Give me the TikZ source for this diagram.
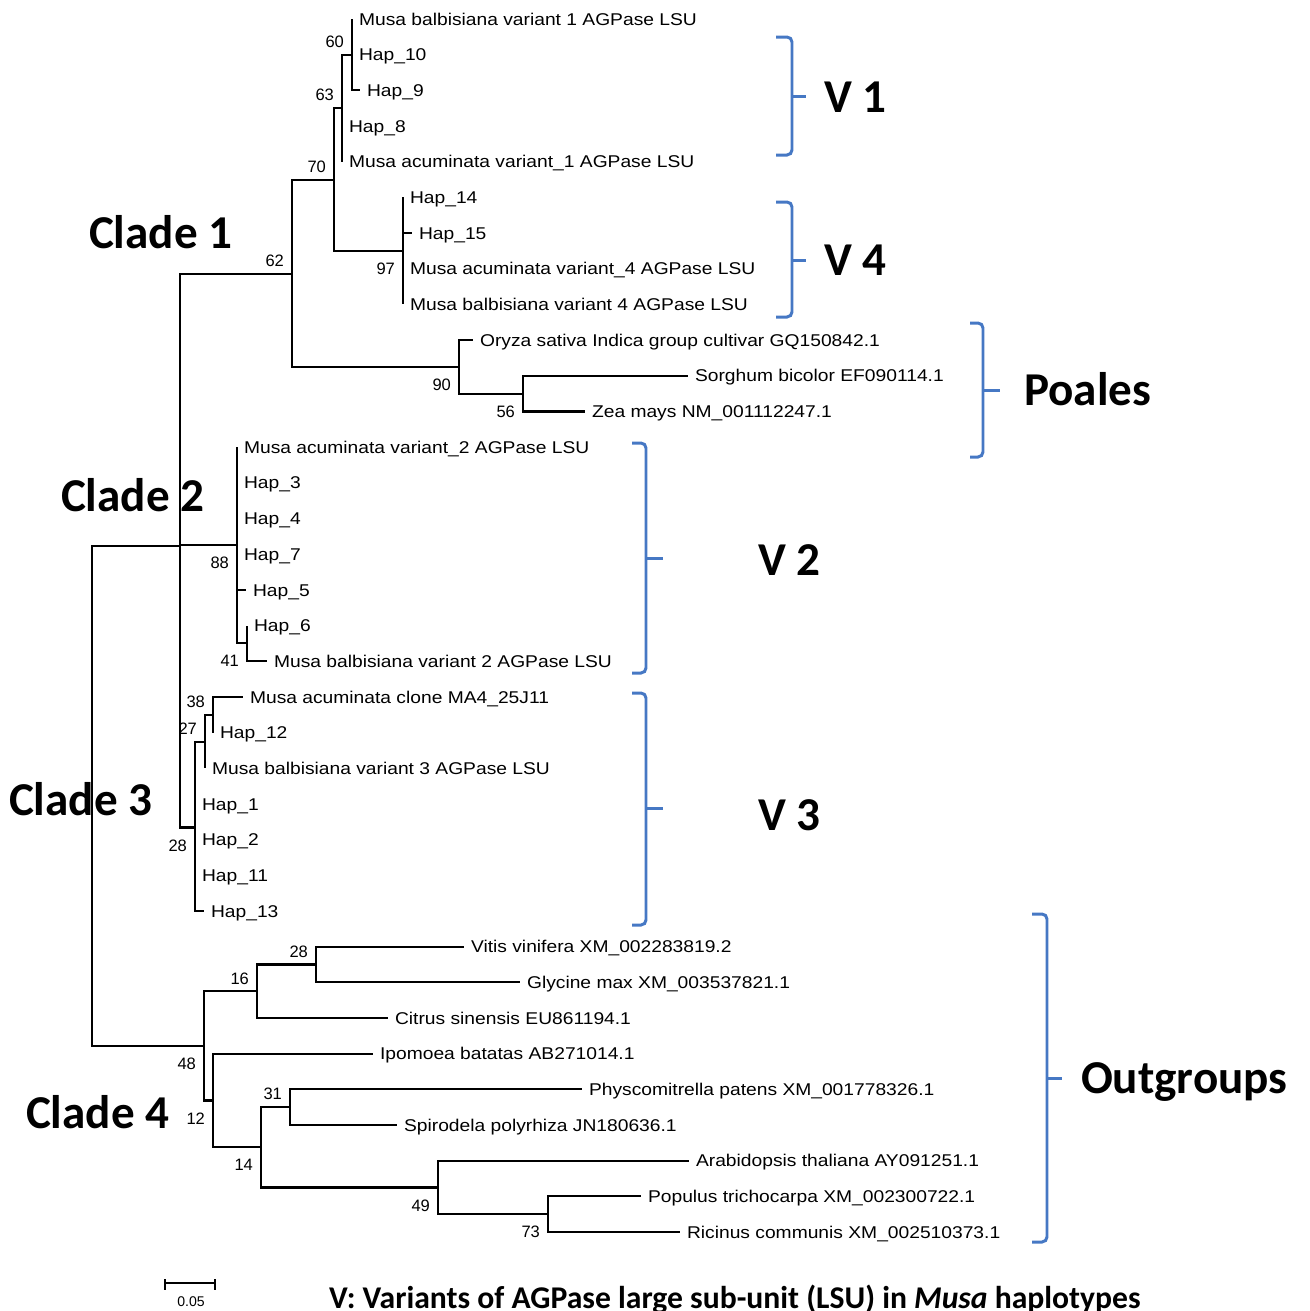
\documentclass[tikz,border=0pt]{standalone}
\usepackage{fontspec}
\usetikzlibrary{positioning}
\newfontfamily\leaffamily[FakeStretch=1.13]{Liberation Sans}
\newfontfamily\bootfamily{Liberation Sans}
\newfontfamily\calfamily{Carlito}
\definecolor{braceblue}{RGB}{70,120,196}

\begin{document}
\begin{tikzpicture}[x=0.01cm, y=-0.01cm, line width=0.6pt,
    leaf/.style={anchor=west, inner xsep=0.06cm, inner ysep=0pt, text height=0.122cm, text depth=0pt,
        font=\leaffamily\fontsize{4.84pt}{5.8pt}\selectfont},
    boot/.style={inner sep=0pt, font=\bootfamily\fontsize{4.7pt}{5.6pt}\selectfont},
    bup/.style={boot, above left=0.06cm and 0.07cm of #1},
    bdown/.style={boot, below left=0.11cm and 0.07cm of #1},
    group/.style={anchor=west, inner sep=0pt, text height=0.3cm, text depth=0pt,
        font=\calfamily\bfseries\fontsize{13.4pt}{16pt}\selectfont},
    brace/.style={draw=braceblue, line width=0.85pt, rounded corners=0.05cm}]
    \useasboundingbox (0,0) rectangle (1310,1311);
    \clip (0,0) rectangle (1310,1311);

    % group labels
    \node[group] (c1) at (88,233) {Clade 1};
    \node[group] (c2) at (60,496) {Clade 2};
    \node[group] (c3) at (8,800) {Clade 3};
    \node[group] (c4) at (25,1113) {Clade 4};

    % inner nodes
    \coordinate (root) at (92,796);
    \coordinate (nA) at (180,546);
    \coordinate (n62) at (292,274);
    \coordinate (n70) at (334,180);
    \coordinate (n63) at (342,108);
    \coordinate (n60) at (352,55);
    \coordinate (n97) at (403,251);
    \coordinate (n90) at (459,367);
    \coordinate (n56) at (523,394);
    \coordinate (n88) at (237,545);
    \coordinate (n41) at (247,643.4);
    \coordinate (n28) at (195,827.5);
    \coordinate (n27) at (205,741.6);
    \coordinate (n38) at (213,714.7);
    \coordinate (n48) at (204,1046);
    \coordinate (n16) at (257,991.3);
    \coordinate (m28) at (316,964.5);
    \coordinate (n12) at (213,1100.5);
    \coordinate (n14) at (261,1147.4);
    \coordinate (n31) at (290,1107.2);
    \coordinate (n49) at (438,1187.5);
    \coordinate (n73) at (548,1214.3);

    % leaves
    \node[leaf] (l1) at (352,19) {Musa balbisiana variant 1 AGPase LSU};
    \node[leaf] (l2) at (352,54.7) {Hap\_10};
    \node[leaf] (l3) at (360,90.4) {Hap\_9};
    \node[leaf] (l4) at (342,126) {Hap\_8};
    \node[leaf] (l5) at (342,161.7) {Musa acuminata variant\_1 AGPase LSU};
    \node[leaf] (l6) at (403,197.4) {Hap\_14};
    \node[leaf] (l7) at (412,233.1) {Hap\_15};
    \node[leaf] (l8) at (403,268.8) {Musa acuminata variant\_4 AGPase LSU};
    \node[leaf] (l9) at (403,304.4) {Musa balbisiana variant 4 AGPase LSU};
    \node[leaf] (l10) at (473,340.1) {Oryza sativa Indica group cultivar GQ150842.1};
    \node[leaf] (l11) at (688,375.8) {Sorghum bicolor EF090114.1};
    \node[leaf] (l12) at (585,411.5) {Zea mays NM\_001112247.1};
    \node[leaf] (l13) at (237,447.2) {Musa acuminata variant\_2 AGPase LSU};
    \node[leaf] (l14) at (237,482.8) {Hap\_3};
    \node[leaf] (l15) at (237,518.5) {Hap\_4};
    \node[leaf] (l16) at (237,554.2) {Hap\_7};
    \node[leaf] (l17) at (246,589.9) {Hap\_5};
    \node[leaf] (l18) at (247,625.6) {Hap\_6};
    \node[leaf] (l19) at (267,661.2) {Musa balbisiana variant 2 AGPase LSU};
    \node[leaf] (l20) at (243,696.9) {Musa acuminata clone MA4\_25J11};
    \node[leaf] (l21) at (213,732.6) {Hap\_12};
    \node[leaf] (l22) at (205,768.3) {Musa balbisiana variant 3 AGPase LSU};
    \node[leaf] (l23) at (195,804) {Hap\_1};
    \node[leaf] (l24) at (195,839.6) {Hap\_2};
    \node[leaf] (l25) at (195,875.3) {Hap\_11};
    \node[leaf] (l26) at (204,911) {Hap\_13};
    \node[leaf] (l27) at (464,946.7) {Vitis vinifera XM\_002283819.2};
    \node[leaf] (l28) at (520,982.4) {Glycine max XM\_003537821.1};
    \node[leaf] (l29) at (388,1018) {Citrus sinensis EU861194.1};
    \node[leaf] (l30) at (373,1053.7) {Ipomoea batatas AB271014.1};
    \node[leaf] (l31) at (582,1089.4) {Physcomitrella patens XM\_001778326.1};
    \node[leaf] (l32) at (397,1125.1) {Spirodela polyrhiza JN180636.1};
    \node[leaf] (l33) at (689,1160.8) {Arabidopsis thaliana AY091251.1};
    \node[leaf] (l34) at (641,1196.4) {Populus trichocarpa XM\_002300722.1};
    \node[leaf] (l35) at (680,1232.1) {Ricinus communis XM\_002510373.1};

    % branches
    \draw (root) |- (nA) (root) |- (n48);
    \draw (nA) |- (n62) (nA) |- (n88) (nA) |- (n28);
    \draw (n62) |- (n70) (n62) |- (n90);
    \draw (n70) |- (n63) (n70) |- (n97);
    \draw (n63) |- (n60) (n63) |- (l4) (n63) |- (l5);
    \draw (n60) |- (l1) (n60) |- (l2) (n60) |- (l3);
    \draw (n97) |- (l6) (n97) |- (l7) (n97) |- (l8) (n97) |- (l9);
    \draw (n90) |- (l10) (n90) |- (n56);
    \draw (n56) |- (l11) (n56) |- (l12);
    \draw (n88) |- (l13) (n88) |- (l14) (n88) |- (l15) (n88) |- (l16) (n88) |- (l17) (n88) |- (n41);
    \draw (n41) |- (l18) (n41) |- (l19);
    \draw (n28) |- (n27) (n28) |- (l23) (n28) |- (l24) (n28) |- (l25) (n28) |- (l26);
    \draw (n27) |- (n38) (n27) |- (l22);
    \draw (n38) |- (l20) (n38) |- (l21);
    \draw (n48) |- (n16) (n48) |- (n12);
    \draw (n16) |- (m28) (n16) |- (l29);
    \draw (m28) |- (l27) (m28) |- (l28);
    \draw (n12) |- (l30) (n12) |- (n14);
    \draw (n14) |- (n31) (n14) |- (n49);
    \draw (n31) |- (l31) (n31) |- (l32);
    \draw (n49) |- (l33) (n49) |- (n73);
    \draw (n73) |- (l34) (n73) |- (l35);

    % bootstrap values
    \node[bup=n60] (b60) {60};
    \node[bup=n63] (b63) {63};
    \node[bup=n70] (b70) {70};
    \node[bup=n62] (b62) {62};
    \node[bdown=n97] (b97) {97};
    \node[bdown=n90] (b90) {90};
    \node[bdown=n56] (b56) {56};
    \node[bdown=n88] (b88) {88};
    \node[bdown=n41] (b41) {41};
    \node[bup=n38] (b38) {38};
    \node[bup=n27] (b27) {27};
    \node[bdown=n28] (b28) {28};
    \node[bup=m28] (bm28) {28};
    \node[bup=n16] (b16) {16};
    \node[bdown=n48] (b48) {48};
    \node[bdown=n12] (b12) {12};
    \node[bup=n31] (b31) {31};
    \node[bdown=n14] (b14) {14};
    \node[bdown=n49] (b49) {49};
    \node[bdown=n73] (b73) {73};

    % braces
    \draw[brace] (776,37) -- (792,37) -- (792,155) -- (776,155);
    \draw[brace] (792,96) -- (806,96);
    \draw[brace] (776,202) -- (792,202) -- (792,317) -- (776,317);
    \draw[brace] (792,260) -- (806,260);
    \draw[brace] (970,323) -- (983,323) -- (983,457) -- (970,457);
    \draw[brace] (983,390) -- (1000,390);
    \draw[brace] (632,443) -- (646,443) -- (646,673) -- (632,673);
    \draw[brace] (646,558) -- (663,558);
    \draw[brace] (632,693) -- (646,693) -- (646,925) -- (632,925);
    \draw[brace] (646,808) -- (663,808);
    \draw[brace] (1032,914) -- (1047,914) -- (1047,1242) -- (1032,1242);
    \draw[brace] (1047,1078) -- (1062,1078);

    \node[group] (v1) at (823,97) {V 1};
    \node[group] (v4) at (823,260) {V 4};
    \node[group] (pl) at (1023,390) {Poales};
    \node[group] (v2) at (757,560) {V 2};
    \node[group] (v3) at (757,815) {V 3};
    \node[group] (og) at (1080,1078) {Outgroups};

    % scale bar
    \coordinate (s0) at (165,1283);
    \coordinate (s1) at (215,1283);
    \draw (s0) -- (s1);
    \draw ([yshift=0.04cm]s0) -- ([yshift=-0.07cm]s0);
    \draw ([yshift=0.04cm]s1) -- ([yshift=-0.07cm]s1);
    \node[boot, font=\bootfamily\fontsize{4pt}{5pt}\selectfont] (sc) at (191,1302) {0.05};

    \node[anchor=west, inner sep=0pt, text height=0.204cm, text depth=0pt,
        font=\calfamily\bfseries\fontsize{9pt}{11pt}\selectfont] (cap) at (328,1298)
        {V: Variants of AGPase large sub-unit (LSU) in \textit{Musa} haplotypes};
\end{tikzpicture}
\end{document}
